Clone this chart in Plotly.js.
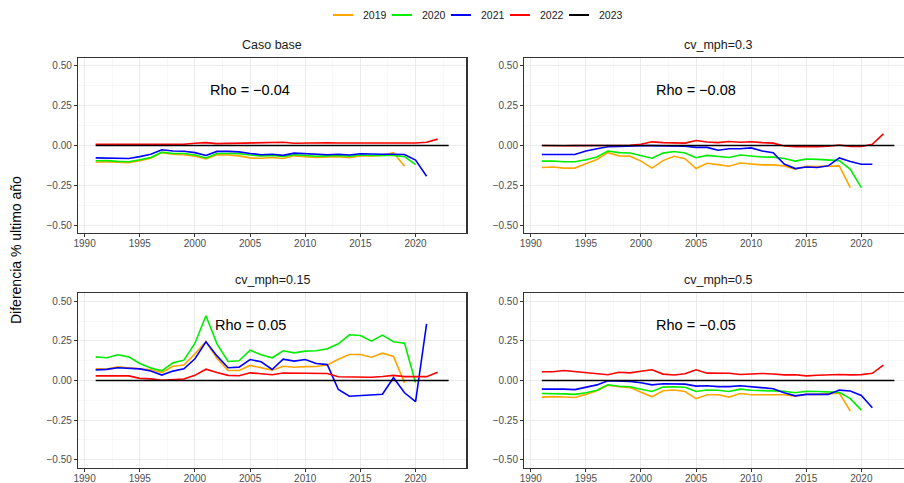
<!DOCTYPE html>
<html>
<head>
<meta charset="utf-8">
<script src="https://cdn.plot.ly/plotly-3.0.1.min.js"></script>
<style>
  html, body { margin: 0; padding: 0; overflow: hidden; background: #ffffff; }
  #chart { width: 920px; height: 483px; }
</style>
</head>
<body>
<div id="chart"></div>
<script>
// Retrospective difference (% vs. last assessment year), four scenarios
const years = [1991, 1992, 1993, 1994, 1995, 1996, 1997, 1998, 1999, 2000,
               2001, 2002, 2003, 2004, 2005, 2006, 2007, 2008, 2009, 2010,
               2011, 2012, 2013, 2014, 2015, 2016, 2017, 2018, 2019, 2020,
               2021, 2022, 2023];

const seriesNames = ["2019", "2020", "2021", "2022", "2023"];
const seriesColors = ["#FFA500", "#00EE00", "#0000FF", "#FF0000", "#000000"];

const panelTitles = ["Caso base", "cv_mph=0.3", "cv_mph=0.15", "cv_mph=0.5"];
const rhoValues = [-0.04, -0.08, 0.05, -0.05];

const xTickVals = [1990, 1995, 2000, 2005, 2010, 2015, 2020];
const yTickVals = [-0.5, -0.25, 0, 0.25, 0.5];
const yTickText = ["\u22120.50", "\u22120.25", "0.00", "0.25", "0.50"];

// Caso base
const base2019 = [-0.105, -0.102, -0.105, -0.108, -0.095, -0.080, -0.045, -0.055, -0.058, -0.068,
                  -0.085, -0.058, -0.060, -0.065, -0.078, -0.080, -0.075, -0.082, -0.065, -0.070,
                  -0.075, -0.072, -0.070, -0.077, -0.065, -0.065, -0.062, -0.045, -0.130];
const base2020 = [-0.096, -0.095, -0.100, -0.102, -0.090, -0.075, -0.042, -0.050, -0.050, -0.060,
                  -0.078, -0.050, -0.050, -0.052, -0.060, -0.065, -0.062, -0.068, -0.058, -0.062,
                  -0.068, -0.065, -0.063, -0.068, -0.060, -0.063, -0.063, -0.063, -0.070, -0.120];
const base2021 = [-0.078, -0.078, -0.082, -0.082, -0.070, -0.055, -0.027, -0.035, -0.036, -0.045,
                  -0.063, -0.037, -0.037, -0.040, -0.050, -0.058, -0.055, -0.062, -0.048, -0.052,
                  -0.058, -0.058, -0.055, -0.060, -0.052, -0.055, -0.055, -0.055, -0.057, -0.092,
                  -0.193];
const base2022 = [0.008, 0.008, 0.008, 0.008, 0.006, 0.005, 0.004, 0.006, 0.008, 0.014,
                  0.018, 0.012, 0.013, 0.014, 0.017, 0.018, 0.016, 0.020, 0.014, 0.016,
                  0.017, 0.017, 0.016, 0.018, 0.016, 0.016, 0.016, 0.016, 0.015, 0.016,
                  0.020, 0.040];

// cv_mph=0.3
const cv03_2019 = [-0.138, -0.135, -0.142, -0.142, -0.115, -0.088, -0.045, -0.065, -0.067, -0.098,
                   -0.142, -0.095, -0.068, -0.083, -0.145, -0.112, -0.120, -0.130, -0.110, -0.115,
                   -0.122, -0.122, -0.128, -0.148, -0.130, -0.132, -0.130, -0.128, -0.265];
const cv03_2020 = [-0.098, -0.097, -0.102, -0.102, -0.090, -0.072, -0.035, -0.045, -0.047, -0.062,
                   -0.080, -0.048, -0.038, -0.047, -0.077, -0.062, -0.068, -0.075, -0.060, -0.067,
                   -0.072, -0.073, -0.082, -0.098, -0.085, -0.087, -0.090, -0.095, -0.150, -0.265];
const cv03_2021 = [-0.057, -0.055, -0.057, -0.057, -0.035, -0.020, -0.008, -0.006, -0.002, -0.001,
                   -0.001, -0.001, -0.002, -0.005, -0.012, -0.012, -0.030, -0.020, -0.020, -0.015,
                   -0.035, -0.045, -0.117, -0.145, -0.135, -0.138, -0.128, -0.078, -0.100, -0.118,
                   -0.118];
const cv03_2022 = [0.000, -0.002, -0.002, -0.001, -0.001, -0.001, -0.002, 0.000, 0.002, 0.008,
                   0.023, 0.018, 0.015, 0.015, 0.031, 0.022, 0.018, 0.025, 0.020, 0.024,
                   0.018, 0.015, -0.003, -0.008, -0.006, -0.008, -0.005, 0.003, -0.006, -0.006,
                   0.008, 0.073];

// cv_mph=0.15
const cv015_2019 = [0.074, 0.072, 0.086, 0.080, 0.075, 0.068, 0.050, 0.090, 0.097, 0.168,
                    0.246, 0.139, 0.063, 0.063, 0.095, 0.078, 0.065, 0.090, 0.083, 0.087,
                    0.088, 0.097, 0.134, 0.164, 0.164, 0.147, 0.172, 0.151, -0.015];
const cv015_2020 = [0.149, 0.143, 0.162, 0.149, 0.107, 0.078, 0.061, 0.111, 0.128, 0.235,
                    0.408, 0.231, 0.120, 0.124, 0.191, 0.162, 0.143, 0.187, 0.174, 0.185,
                    0.187, 0.200, 0.231, 0.288, 0.284, 0.248, 0.286, 0.244, 0.235, -0.015];
const cv015_2021 = [0.067, 0.070, 0.080, 0.077, 0.073, 0.060, 0.034, 0.059, 0.074, 0.137,
                    0.244, 0.155, 0.080, 0.084, 0.132, 0.118, 0.069, 0.134, 0.122, 0.132,
                    0.107, 0.100, -0.057, -0.100, -0.095, -0.092, -0.087, 0.017, -0.078, -0.134,
                    0.357];
const cv015_2022 = [0.029, 0.028, 0.029, 0.029, 0.013, 0.010, 0.001, 0.003, 0.009, 0.032,
                    0.071, 0.050, 0.032, 0.030, 0.048, 0.042, 0.036, 0.047, 0.046, 0.047,
                    0.045, 0.044, 0.023, 0.023, 0.022, 0.020, 0.025, 0.032, 0.024, 0.022,
                    0.024, 0.052];

// cv_mph=0.5
const cv05_2019 = [-0.105, -0.102, -0.104, -0.108, -0.088, -0.065, -0.030, -0.040, -0.045, -0.072,
                   -0.103, -0.065, -0.060, -0.070, -0.115, -0.090, -0.090, -0.105, -0.082, -0.090,
                   -0.090, -0.090, -0.090, -0.100, -0.088, -0.088, -0.085, -0.080, -0.193];
const cv05_2020 = [-0.082, -0.082, -0.085, -0.088, -0.078, -0.062, -0.027, -0.037, -0.040, -0.055,
                   -0.070, -0.042, -0.040, -0.043, -0.070, -0.060, -0.062, -0.070, -0.055, -0.062,
                   -0.065, -0.065, -0.068, -0.078, -0.068, -0.070, -0.073, -0.075, -0.115, -0.187];
const cv05_2021 = [-0.055, -0.053, -0.055, -0.058, -0.043, -0.028, -0.002, -0.003, -0.006, -0.015,
                   -0.028, -0.021, -0.021, -0.023, -0.036, -0.033, -0.039, -0.039, -0.033, -0.038,
                   -0.046, -0.052, -0.078, -0.097, -0.088, -0.090, -0.088, -0.061, -0.067, -0.095,
                   -0.172];
const cv05_2022 = [0.055, 0.055, 0.063, 0.057, 0.050, 0.042, 0.036, 0.052, 0.048, 0.058,
                   0.067, 0.040, 0.034, 0.042, 0.067, 0.046, 0.045, 0.045, 0.038, 0.040,
                   0.044, 0.041, 0.035, 0.036, 0.029, 0.033, 0.035, 0.038, 0.035, 0.037,
                   0.045, 0.097];

// Reference year 2023 (zero difference with itself)
const ref2023 = [0, 0, 0, 0, 0, 0, 0, 0, 0, 0, 0, 0, 0, 0, 0, 0, 0,
                 0, 0, 0, 0, 0, 0, 0, 0, 0, 0, 0, 0, 0, 0, 0, 0];

const panels = [
  [base2019, base2020, base2021, base2022, ref2023],
  [cv03_2019, cv03_2020, cv03_2021, cv03_2022, ref2023],
  [cv015_2019, cv015_2020, cv015_2021, cv015_2022, ref2023],
  [cv05_2019, cv05_2020, cv05_2021, cv05_2022, ref2023]
];

// ---- page geometry (pixels) ----
const W = 920, H = 483;
const colPx = [[78, 466.3], [524.2, 912]];
const rowPx = [[58, 233], [293.3, 467.6]];
const px = v => v / W;
const py = v => (H - v) / H;

const traces = [];
panels.forEach((series, p) => {
  const suffix = p === 0 ? "" : String(p + 1);
  series.forEach((vals, s) => {
    traces.push({
      type: "scatter",
      mode: "lines",
      x: years.slice(0, vals.length),
      y: vals,
      name: seriesNames[s],
      legendgroup: seriesNames[s],
      showlegend: false,
      xaxis: "x" + suffix,
      yaxis: "y" + suffix,
      line: { color: seriesColors[s], width: 1.6 },
      hoverinfo: "skip"
    });
  });
});

const gridMajor = "#EBEBEB";
const gridMinor = "#F4F4F4";
const tickFont = { family: "Liberation Sans, Arial, sans-serif", size: 10, color: "#4D4D4D" };

const layout = {
  width: W,
  height: H,
  margin: { l: 0, r: 0, t: 0, b: 0, pad: 0 },
  paper_bgcolor: "#FFFFFF",
  plot_bgcolor: "#FFFFFF",
  showlegend: false,
  font: { family: "Liberation Sans, Arial, sans-serif", color: "#1A1A1A" },
  annotations: [],
  shapes: []
};

panels.forEach((_, p) => {
  const suffix = p === 0 ? "" : String(p + 1);
  const col = p % 2, row = Math.floor(p / 2);
  layout["xaxis" + suffix] = {
    domain: [px(colPx[col][0]), px(colPx[col][1])],
    anchor: "y" + suffix,
    range: [1989.4, 2024.6],
    tickvals: xTickVals,
    ticktext: xTickVals.map(String),
    ticks: "outside", ticklen: 3, tickwidth: 1, tickcolor: "#333333",
    ticklabelstandoff: -2,
    tickfont: tickFont,
    showgrid: true, gridcolor: gridMajor, gridwidth: 1,
    minor: { dtick: 2.5, tick0: 1987.5, showgrid: true, gridcolor: gridMinor, gridwidth: 0.6, ticks: "" },
    showline: true, linecolor: "#333333", linewidth: 1.2, mirror: true,
    zeroline: false, fixedrange: true
  };
  layout["yaxis" + suffix] = {
    domain: [py(rowPx[row][1]), py(rowPx[row][0])],
    anchor: "x" + suffix,
    range: [-0.55, 0.55],
    tickvals: yTickVals,
    ticktext: yTickText,
    ticks: "outside", ticklen: 3, tickwidth: 1, tickcolor: "#333333",
    tickfont: tickFont,
    showgrid: true, gridcolor: gridMajor, gridwidth: 1,
    minor: { dtick: 0.125, tick0: -0.625, showgrid: true, gridcolor: gridMinor, gridwidth: 0.6, ticks: "" },
    showline: true, linecolor: "#333333", linewidth: 1.2, mirror: true,
    zeroline: false, fixedrange: true
  };

  // facet strip title
  layout.annotations.push({
    xref: "paper", yref: "paper",
    x: px((colPx[col][0] + colPx[col][1]) / 2),
    y: py(rowPx[row][0] - 13),
    xanchor: "center", yanchor: "middle",
    text: panelTitles[p], showarrow: false,
    font: { size: 12.5, color: "#1A1A1A" }
  });

  // correlation label
  const r = rhoValues[p];
  const rTxt = (r < 0 ? "\u2212" : "") + Math.abs(r).toFixed(2);
  layout.annotations.push({
    xref: "x" + suffix, yref: "y" + suffix,
    x: 2005, y: 0.35,
    xanchor: "center", yanchor: "middle",
    text: "Rho = " + rTxt, showarrow: false,
    font: { size: 14.5, color: "#000000" }
  });
});

// shared y-axis title
layout.annotations.push({
  xref: "paper", yref: "paper",
  x: px(16), y: py(250),
  xanchor: "center", yanchor: "middle",
  text: "Diferencia % ultimo año", textangle: -90, showarrow: false,
  font: { size: 14, color: "#000000" }
});

// legend row across the top
const legStart = 333, legStep = 59, legY = 15;
seriesNames.forEach((name, i) => {
  const x0 = legStart + legStep * i;
  layout.shapes.push({
    type: "line", xref: "paper", yref: "paper",
    x0: px(x0), x1: px(x0 + 20), y0: py(legY), y1: py(legY),
    line: { color: seriesColors[i], width: 2 }
  });
  layout.annotations.push({
    xref: "paper", yref: "paper",
    x: px(x0 + 28), y: py(legY),
    xanchor: "left", yanchor: "middle",
    text: name, showarrow: false,
    font: { size: 10.5, color: "#1A1A1A" }
  });
});

Plotly.newPlot("chart", traces, layout, { staticPlot: true, displayModeBar: false });
</script>
</body>
</html>
